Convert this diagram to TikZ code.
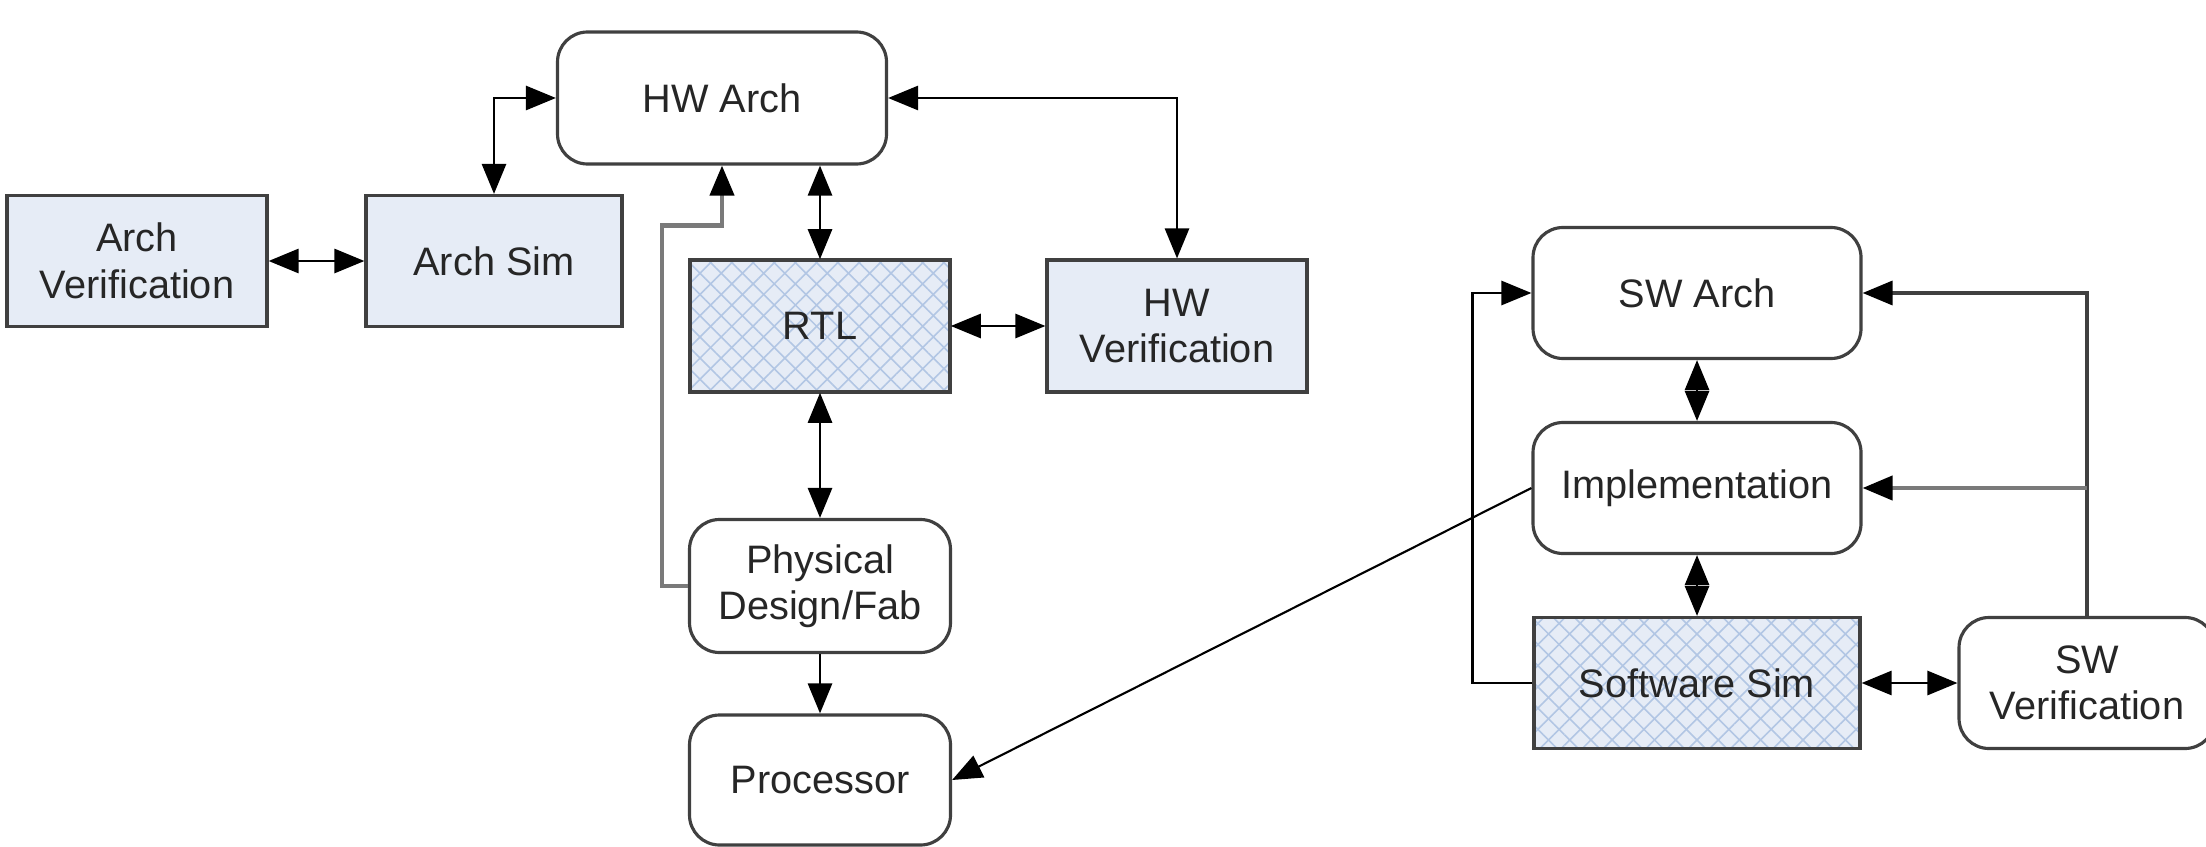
\documentclass[tikz,border=0pt]{standalone}
\usepackage{fontspec}
\setmainfont{Liberation Sans}
\usepackage{xcolor}
\usepackage{tikz}
\usetikzlibrary{calc}
\usetikzlibrary{arrows.meta,positioning}
\usetikzlibrary{patterns.meta}
\definecolor{boxblue}{HTML}{E6ECF6}
\definecolor{hatchblue}{HTML}{B2C6E4}
\definecolor{edgegray}{HTML}{404040}
\definecolor{wiregray}{HTML}{7A7A7A}

\begin{document}
\begin{tikzpicture}[
	blk/.style={draw=edgegray,line width=0.9pt,align=center,inner sep=0pt,minimum width=2.6cm,minimum height=1.31cm,text=black!85,font=\fontsize{11.3}{13.2}\selectfont},
	simbox/.style={blk,fill=boxblue},
	hatchbox/.style={blk,preaction={fill=boxblue},preaction={pattern={Lines[angle=45,distance=0.15cm,line width=0.45pt]},pattern color=hatchblue},pattern={Lines[angle=-45,distance=0.15cm,line width=0.45pt]},pattern color=hatchblue},
	roundbox/.style={blk,fill=white,rounded corners=0.3cm},
	link/.style={line width=0.8pt,{Triangle[length=0.3cm,width=0.24cm]}-{Triangle[length=0.3cm,width=0.24cm]}},
	onearrow/.style={line width=0.8pt,-{Triangle[length=0.3cm,width=0.24cm,color=black]}},
	grayarrow/.style={line width=1.2pt,wiregray,-{Triangle[length=0.3cm,width=0.24cm,color=black]}},
	thinarrow/.style={line width=0.6pt,-{Triangle[length=0.3cm,width=0.24cm]}}]
	\useasboundingbox (0,0) rectangle (22.06,-8.46);
	\node[simbox] (archver) at (1.37,-2.61) {Arch\\Verification};
	\node[simbox,minimum width=2.56cm] (archsim) at (4.94,-2.61) {Arch Sim};
	\node[roundbox,minimum width=3.29cm,minimum height=1.32cm] (hwarch) at (7.22,-0.98) {HW Arch};
	\node[hatchbox,minimum height=1.32cm] (rtl) at (8.20,-3.26) {RTL};
	\node[simbox,minimum height=1.32cm] (hwver) at (11.77,-3.26) {HW\\Verification};
	\node[roundbox,minimum width=2.61cm,minimum height=1.33cm] (phys) at (8.20,-5.86) {Physical\\Design/Fab};
	\node[roundbox,minimum width=2.61cm,minimum height=1.30cm] (proc) at (8.20,-7.80) {Processor};
	\node[roundbox,minimum width=3.28cm] (swarch) at (16.97,-2.93) {SW Arch};
	\node[roundbox,minimum width=3.28cm] (impl) at (16.97,-4.88) {Implementation};
	\node[hatchbox,minimum width=3.26cm] (swsim) at (16.97,-6.83) {Software Sim};
	\node[roundbox,minimum width=2.56cm] (swver) at (20.87,-6.83) {SW\\Verification};
	\draw[link] (archver) -- (archsim);
	\draw[link] (archsim.north) |- (hwarch.west);
	\draw[link] (hwarch.south -| rtl.north) -- (rtl.north);
	\draw[link] (hwarch.east) -| (hwver.north);
	\draw[link] (rtl) -- (hwver);
	\draw[link] (rtl) -- (phys);
	\draw[onearrow] (phys) -- (proc);
	\draw[grayarrow] (phys.west) -- ++(-0.26,0) |- ([yshift=-0.6cm]hwarch.south) -- (hwarch.south);
	\draw[thinarrow] (impl.west) -- (proc.east);
	\draw[onearrow] (swsim.west) -- ++(-0.6,0) |- (swarch.west);
	\draw[link] (swarch) -- (impl);
	\draw[link] (impl) -- (swsim);
	\draw[link] (swsim) -- (swver);
	\draw[onearrow,edgegray,line width=1pt] (swver.north) |- (swarch.east);
	\coordinate (branch) at (swver.north |- impl.east);
	\draw[grayarrow] (branch) -- (impl.east);
\end{tikzpicture}
\end{document}
